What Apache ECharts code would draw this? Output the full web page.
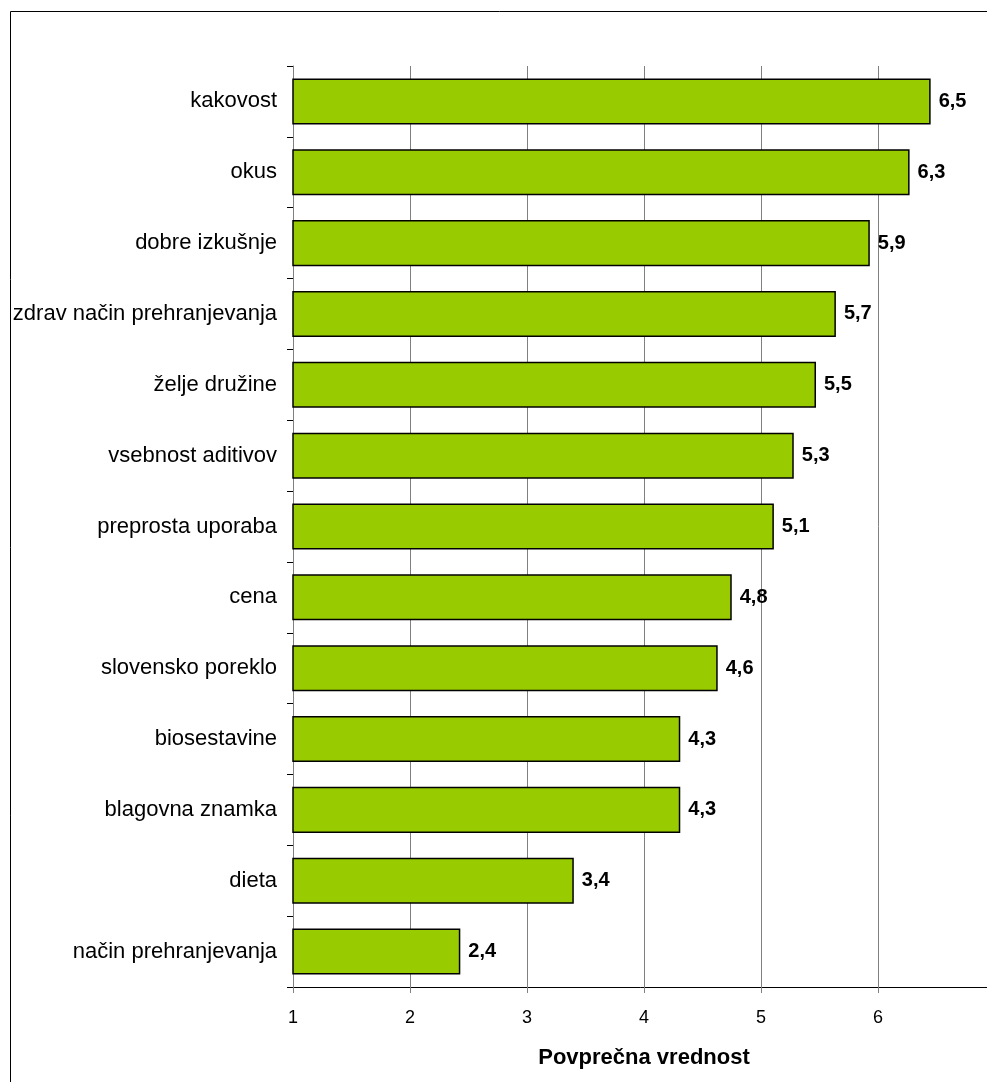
<!DOCTYPE html>
<html>
<head>
<meta charset="utf-8">
<script src="https://cdn.jsdelivr.net/npm/echarts@6/dist/echarts.min.js"></script>
<style>html,body{margin:0;padding:0;background:#fff;}#c{width:987px;height:1082px;}</style>
</head>
<body>
<div id="c"></div>
<script>
const categories = ["kakovost","okus","dobre izkušnje","zdrav način prehranjevanja","želje družine","vsebnost aditivov","preprosta uporaba","cena","slovensko poreklo","biosestavine","blagovna znamka","dieta","način prehranjevanja"];
const values = [6.45, 6.27, 5.93, 5.64, 5.47, 5.28, 5.11, 4.75, 4.63, 4.31, 4.31, 3.40, 2.43];
const valueLabels = ["6,5","6,3","5,9","5,7","5,5","5,3","5,1","4,8","4,6","4,3","4,3","3,4","2,4"];
const axisTitle = "Povprečna vrednost";
const FONT = "'Liberation Sans', Arial, sans-serif";

const chart = echarts.init(document.getElementById('c'), null, {renderer: 'canvas'});
chart.setOption({
  animation: false,
  backgroundColor: '#fff',
  graphic: [{
    type: 'rect', silent: true, z: -10,
    shape: {x: 10.5, y: 11.5, width: 1100, height: 1200},
    style: {fill: 'none', stroke: '#000', lineWidth: 1}
  }],
  grid: {left: 293, top: 66, width: 702, height: 921, containLabel: false, outerBoundsMode: 'none'},
  xAxis: {
    type: 'value', min: 1, max: 7, interval: 1,
    name: axisTitle, nameLocation: 'middle', nameGap: 60,
    nameTextStyle: {fontFamily: FONT, fontSize: 22, fontWeight: 'bold', color: '#000'},
    axisLine: {show: true, lineStyle: {color: '#000', width: 1}},
    axisTick: {show: true, length: 6, inside: false, lineStyle: {color: '#808080'}},
    axisLabel: {margin: 22, fontFamily: FONT, fontSize: 18, color: '#000',
      formatter: v => (Number.isInteger(v) && v < 7) ? String(v) : ''},
    splitLine: {show: true, lineStyle: {color: '#808080', width: 1}}
  },
  yAxis: {
    type: 'category', data: categories, inverse: true,
    axisLine: {show: true, lineStyle: {color: '#808080', width: 1}},
    axisTick: {show: true, length: 6, inside: false, alignWithLabel: false, lineStyle: {color: '#000'}},
    axisLabel: {margin: 16, fontFamily: FONT, fontSize: 22, color: '#000'},
    splitLine: {show: false}
  },
  series: [{
    type: 'bar',
    data: values,
    barCategoryGap: '35%',
    itemStyle: {color: '#99CC00', borderColor: '#000', borderWidth: 1.5},
    label: {
      show: true, position: 'right', distance: 8,
      fontFamily: FONT, fontSize: 20, fontWeight: 'bold', color: '#000',
      formatter: p => valueLabels[p.dataIndex]
    }
  }]
});
</script>
</body>
</html>
